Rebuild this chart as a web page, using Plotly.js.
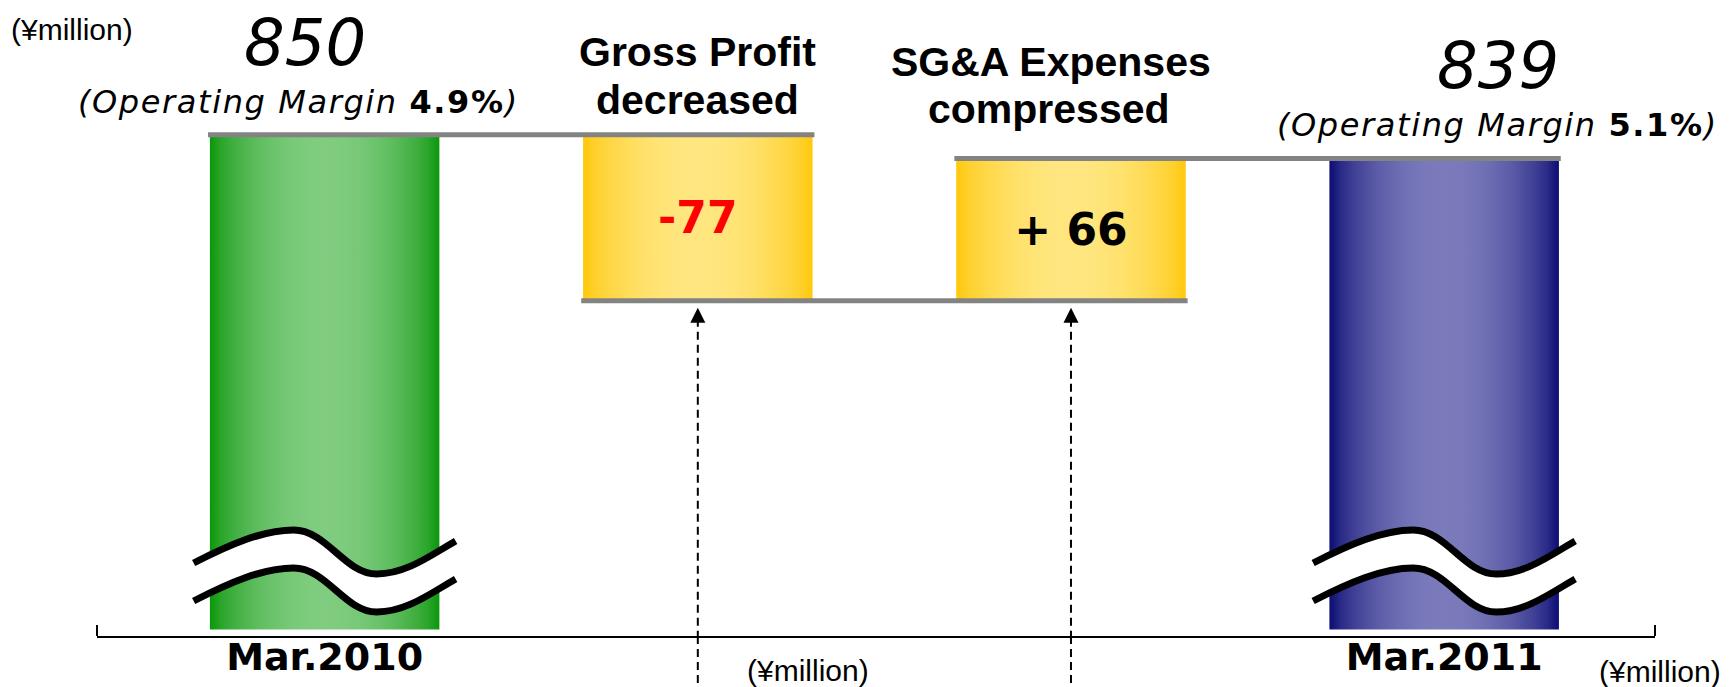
<!DOCTYPE html>
<html>
<head>
<meta charset="utf-8">
<script src="https://cdn.plot.ly/plotly-3.0.1.min.js"></script>
<style>
  html, body { margin: 0; padding: 0; background: #ffffff; }
  #chart { width: 1730px; height: 687px; }
</style>
</head>
<body>
<div id="chart"></div>
<script>
// ---------------- data ----------------
const categories = ["Mar.2010", "Gross Profit decreased", "SG&A Expenses compressed", "Mar.2011"];
const startValue = 850;
const endValue = 839;
const changeValues = [-77, 66];
const changeLabels = ["-77", "+ 66"];
const changeTitles = [["Gross Profit", "decreased"], ["SG&A Expenses", "compressed"]];
const marginRates = ["4.9%", "5.1%"];
const tickLabels = ["Mar.2010", "Mar.2011"];
const unitLabel = "(¥million)";

// ---------------- derived ----------------
const AXIS_FLOOR = 620.5;          // floor of the broken value axis
const Y_RANGE = [617.5, 912.5];
const BAR_W = 0.615;

const levels = [startValue];
changeValues.forEach(v => levels.push(levels[levels.length - 1] + v));   // 850, 773, 839

const barBase = [AXIS_FLOOR];
const barLen = [startValue - AXIS_FLOOR];
changeValues.forEach((v, i) => {
  barBase.push(Math.min(levels[i], levels[i + 1]));
  barLen.push(Math.abs(v));
});
barBase.push(AXIS_FLOOR);
barLen.push(endValue - AXIS_FLOOR);

const barText = [""].concat(changeLabels, [""]);
const barTextColor = ["#000000"].concat(changeValues.map(v => v < 0 ? "#ff0000" : "#000000"), ["#000000"]);

const trace = {
  type: "bar",
  x: categories,
  y: barLen,
  base: barBase,
  width: BAR_W,
  marker: { color: ["#49b249", "#ffd84a", "#ffd84a", "#4444a0"], line: { width: 0 } },
  text: barText,
  textposition: "inside",
  insidetextanchor: "middle",
  textangle: 0,
  constraintext: "none",
  textfont: { family: "DejaVu Sans, sans-serif", size: 44, weight: "bold", color: barTextColor },
  hoverinfo: "skip"
};

// ---------------- shapes ----------------
const shapes = [];
const GRAY = "#838383";

// connectors: from left edge of bar i to right edge of bar i+1
for (let i = 0; i < categories.length - 1; i++) {
  shapes.push({
    type: "line", xref: "x", yref: "y", layer: "above",
    x0: i - BAR_W / 2 - 0.005, x1: i + 1 + BAR_W / 2 + 0.005,
    y0: levels[i], y1: levels[i],
    line: { color: GRAY, width: 5 }
  });
}

// broken-axis wave marks on total bars
function wavePts(dy) {
  return [[-131, 73 + dy], [-96, 91 + dy], [-62, 106 + dy], [-31, 106 + dy],
          [2, 106 + dy], [20, 62 + dy], [52, 62 + dy],
          [82, 62 + dy], [108, 82 + dy], [131, 95 + dy]];
}
function waveLine(dy) {
  const p = wavePts(dy);
  return `M ${p[0][0]} ${p[0][1]} C ${p[1][0]} ${p[1][1]} ${p[2][0]} ${p[2][1]} ${p[3][0]} ${p[3][1]} ` +
         `C ${p[4][0]} ${p[4][1]} ${p[5][0]} ${p[5][1]} ${p[6][0]} ${p[6][1]} ` +
         `C ${p[7][0]} ${p[7][1]} ${p[8][0]} ${p[8][1]} ${p[9][0]} ${p[9][1]}`;
}
function waveBand(dyTop, dyBot) {
  const q = wavePts(dyBot);
  return waveLine(dyTop) + ` L ${q[9][0]} ${q[9][1]} ` +
    `C ${q[8][0]} ${q[8][1]} ${q[7][0]} ${q[7][1]} ${q[6][0]} ${q[6][1]} ` +
    `C ${q[5][0]} ${q[5][1]} ${q[4][0]} ${q[4][1]} ${q[3][0]} ${q[3][1]} ` +
    `C ${q[2][0]} ${q[2][1]} ${q[1][0]} ${q[1][1]} ${q[0][0]} ${q[0][1]} Z`;
}
[0, categories.length - 1].forEach(i => {
  const common = { xref: "x", xsizemode: "pixel", xanchor: i, yref: "paper", ysizemode: "pixel", yanchor: 0, layer: "above" };
  shapes.push(Object.assign({ type: "path", path: waveBand(0, -38), fillcolor: "#ffffff", line: { width: 0 } }, common));
  shapes.push(Object.assign({ type: "path", path: waveLine(0), line: { color: "#000000", width: 7 } }, common));
  shapes.push(Object.assign({ type: "path", path: waveLine(-38), line: { color: "#000000", width: 7 } }, common));
});

// dashed arrows under the change bars
for (let k = 0; k < changeValues.length; k++) {
  const i = k + 1;
  const yb = barBase[i];
  shapes.push({
    type: "line", xref: "x", yref: "y", ysizemode: "pixel", yanchor: yb, layer: "above",
    x0: i, x1: i, y0: -18, y1: -500,
    line: { color: "#000000", width: 2, dash: "8px,5px" }
  });
  shapes.push({
    type: "line", xref: "x", yref: "paper", layer: "above",
    x0: i, x1: i, y0: 0, y1: -0.12,
    line: { color: "#000000", width: 2, dash: "8px,5px" }
  });
  shapes.push({
    type: "path", xref: "x", xsizemode: "pixel", xanchor: i,
    yref: "y", ysizemode: "pixel", yanchor: yb, layer: "above",
    path: "M 0 -7 L 7.5 -22 L -7.5 -22 Z",
    fillcolor: "#000000", line: { width: 0 }
  });
}

// small end ticks of the category axis
[0, 1].forEach(px => {
  shapes.push({
    type: "line", xref: "paper", yref: "paper", ysizemode: "pixel", yanchor: 0,
    x0: px, x1: px, y0: 0, y1: 11, line: { color: "#000000", width: 2 }
  });
});

// ---------------- annotations ----------------
const THIN = '"DejaVu Sans ExtraLight", "DejaVu Sans", sans-serif';
const SANS = '"DejaVu Sans", sans-serif';
const ARIAL = '"Liberation Sans", Arial, sans-serif';
const annotations = [];

// unit labels
const unitFont = { family: ARIAL, size: 30, color: "#000" };
annotations.push({ xref: "paper", yref: "paper", x: -0.0565, y: 1 - 30 / 636, xanchor: "left", yanchor: "middle",
  text: unitLabel, showarrow: false, font: unitFont });
annotations.push({ xref: "paper", yref: "paper", x: 0.4564, y: -0.0535, xanchor: "center", yanchor: "middle",
  text: unitLabel, showarrow: false, font: unitFont });
annotations.push({ xref: "paper", yref: "paper", x: 1.0435, y: -0.0566, xanchor: "right", yanchor: "middle",
  text: unitLabel, showarrow: false, font: unitFont });

// totals with operating margin
const totalIdx = [0, categories.length - 1];
const totalVals = [startValue, endValue];
const valueShiftX = [-20, 54];
const marginShiftX = [-26, 53];
totalIdx.forEach((i, k) => {
  annotations.push({ xref: "x", yref: "y", x: categories[i], y: totalVals[k], xanchor: "center", yanchor: "middle",
    xshift: valueShiftX[k], yshift: 92, showarrow: false, text: String(totalVals[k]),
    font: { family: THIN, size: 64, style: "italic", color: "#000" } });
  annotations.push({ xref: "x", yref: "y", x: categories[i], y: totalVals[k], xanchor: "center", yanchor: "middle",
    xshift: marginShiftX[k], yshift: 33, showarrow: false,
    text: '<span style="letter-spacing:1.6px">(Operating Margin <span style="font-family:DejaVu Sans;font-style:normal;font-weight:bold">' +
          marginRates[k] + '</span>)</span>',
    font: { family: SANS, size: 32, style: "italic", color: "#000" } });
});

// change titles
const titleShiftX = [[0, 0], [-20, -22]];
const titleShiftY = [[82.5, 34.5], [96, 49]];
changeTitles.forEach((lines, k) => {
  const i = k + 1;
  const topLevel = Math.max(levels[k], levels[k + 1]);
  lines.forEach((t, j) => {
    annotations.push({ xref: "x", yref: "y", x: categories[i], y: topLevel, xanchor: "center", yanchor: "middle",
      xshift: titleShiftX[k][j], yshift: titleShiftY[k][j], showarrow: false, text: t,
      font: { family: ARIAL, size: 41, weight: "bold", color: "#000" } });
  });
});

// ---------------- layout ----------------
const layout = {
  width: 1730, height: 687,
  margin: { l: 97, r: 75, t: 0, b: 51, pad: 0 },
  paper_bgcolor: "#ffffff", plot_bgcolor: "#ffffff",
  showlegend: false,
  barmode: "overlay",
  xaxis: {
    type: "category", categoryorder: "array", categoryarray: categories,
    range: [-0.61, 3.565], autorange: false, fixedrange: true,
    showline: true, linecolor: "#000000", linewidth: 2,
    showgrid: false, zeroline: false, ticks: "",
    tickmode: "array", tickvals: [categories[0], categories[categories.length - 1]], ticktext: tickLabels,
    tickfont: { family: SANS, size: 38, weight: "bold", color: "#000" },
    ticklabelstandoff: -14
  },
  yaxis: { range: Y_RANGE, autorange: false, visible: false, fixedrange: true, showgrid: false, zeroline: false },
  shapes: shapes,
  annotations: annotations,
  hovermode: false
};

// gradient definitions (edge, middle) for each bar
const gradients = [
  ["#0b970b", "#80cc80"],
  ["#ffc80a", "#ffe680"],
  ["#ffc80a", "#ffe680"],
  ["#0c0c74", "#7b7bbc"]
];
function hexToRgb(h) { return [1, 3, 5].map(o => parseInt(h.substr(o, 2), 16)); }

Plotly.newPlot("chart", [trace], layout, { staticPlot: true, displayModeBar: false }).then(gd => {
  const svgNS = "http://www.w3.org/2000/svg";
  const defs = gd.querySelector("svg.main-svg defs");
  gradients.forEach((g, i) => {
    const a = hexToRgb(g[0]), b = hexToRgb(g[1]);
    const lg = document.createElementNS(svgNS, "linearGradient");
    lg.setAttribute("id", "barGrad" + i);
    lg.setAttribute("x1", "0"); lg.setAttribute("y1", "0");
    lg.setAttribute("x2", "1"); lg.setAttribute("y2", "0");
    for (let s = 0; s <= 20; s++) {
      const t = s / 20;
      const w = Math.pow(Math.sin(Math.PI * t), 0.7);
      const c = a.map((av, j) => Math.round(av + (b[j] - av) * w));
      const st = document.createElementNS(svgNS, "stop");
      st.setAttribute("offset", t);
      st.setAttribute("stop-color", `rgb(${c[0]},${c[1]},${c[2]})`);
      lg.appendChild(st);
    }
    defs.appendChild(lg);
  });
  gd.querySelectorAll(".barlayer .point path").forEach((p, i) => {
    p.style.fill = "url(#barGrad" + i + ")";
  });
});
</script>
</body>
</html>
